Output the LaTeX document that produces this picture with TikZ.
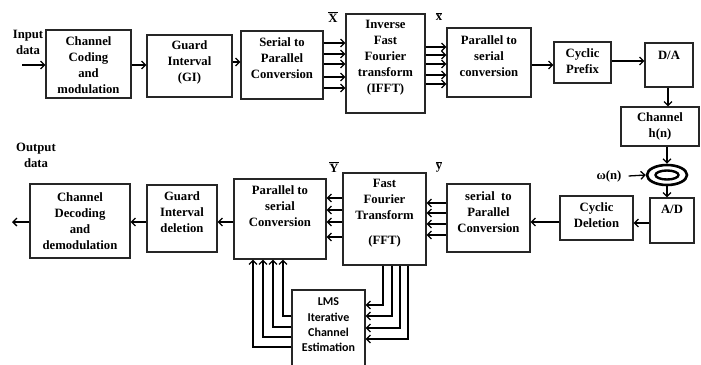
\documentclass[tikz,border=0pt]{standalone}
\usepackage{fontspec}
\setmainfont{Liberation Serif}
\newfontfamily\tnr{Liberation Serif}
\newfontfamily\lmsfont{Carlito}
\usetikzlibrary{arrows.meta,shapes.geometric}
\newcommand\obar[1]{$\overline{\hbox{#1}}$}
\newcommand\mkbox[5]{\node[box, minimum width={#4-#2}, minimum height={#5-#3}] (#1) at ({(#2+#4)/2},{(#3+#5)/2}) {};}
\begin{document}
\begin{tikzpicture}[x=1pt,y=-1pt,
  box/.style={draw=black!85, line width=1.1pt, inner sep=0pt, rectangle},
  txt/.style={align=center, inner sep=0pt, font=\tnr\fontsize{12.7}{16}\selectfont\bfseries},
  lmstxt/.style={align=center, inner sep=0pt, font=\lmsfont\fontsize{12}{15.3}\selectfont\bfseries},
  arr/.style={line width=1.3pt, -{Straight Barb[length=4pt,width=8pt]}},
  ln/.style={line width=1.3pt}]
\useasboundingbox (0,0) rectangle (701,364);
% ---- boxes ----
\mkbox{cc}{46}{30}{131}{98}
\mkbox{gi}{147}{35}{232}{97}
\mkbox{sp}{241}{31}{323}{99}
\mkbox{ifft}{346}{14}{425}{113}
\mkbox{ps}{447}{28}{531}{97}
\mkbox{cp}{554}{42}{611}{83}
\mkbox{da}{645}{43}{693}{87}
\mkbox{ch}{621}{107}{699}{146}
\mkbox{ad}{650}{198}{694}{243}
\mkbox{cd}{560}{196}{633}{240}
\mkbox{sptwo}{447}{184}{530}{252}
\mkbox{fft}{343}{173}{426}{265}
\mkbox{pstwo}{234}{179}{326}{259}
\mkbox{gid}{147}{185}{217}{252}
\mkbox{cdd}{30}{184}{130}{258}
\mkbox{lms}{292}{290}{365}{372}
% ---- texts ----
\node[txt] (cct) at (88.5,65.5) {Channel\\Coding\\and\\modulation};
\node[txt] (git) at (189.5,62.5) {Guard\\Interval\\(GI)};
\node[txt] (spt) at (282,58) {Serial to\\Parallel\\Conversion};
\node[txt] (ifftt) at (385.5,57.5) {Inverse\\Fast\\Fourier\\transform\\(IFFT)};
\node[txt] (pst) at (489,56.5) {Parallel to\\serial\\conversion};
\node[txt] (cpt) at (582.5,61.5) {Cyclic\\Prefix};
\node[txt] (dat) at (669,55.5) {D/A};
\node[txt] (cht) at (660,126.5) {Channel\\h(n)};
\node[txt] (adt) at (672,209) {A/D};
\node[txt] (cdt) at (596.5,215.5) {Cyclic\\Deletion};
\node[txt] (sptwot) at (488.5,212) {serial\enspace to\\Parallel\\Conversion};
\node[txt] (fftt) at (384.5,213.5) {Fast\\Fourier\\Transform\\[9pt](FFT)};
\node[txt] (pstwot) at (280,206.5) {Parallel to\\serial\\Conversion};
\node[txt] (gidt) at (182,212.5) {Guard\\Interval\\deletion};
\node[txt] (cddt) at (80,221) {Channel\\Decoding\\and\\demodulation};
\node[lmstxt] (lmst) at (328.5,325) {LMS\\Iterative\\Channel\\Estimation};
\node[txt] (inlbl) at (28,42) {Input\\data};
\node[txt] (outlbl) at (36,155) {Output\\data};
\node[txt] (xbig) at (333,17) {\obar{X}};
\node[txt] (xsmall) at (439,17) {\obar{x}};
\node[txt] (ybig) at (334,167) {\obar{Y}};
\node[txt] (ysmall) at (439,167) {\obar{y}};
\node[txt] (om) at (609,176) {ω(n)};
% ---- ring ----
\node[draw, ellipse, line width=2.6pt, minimum width=40pt, minimum height=20pt, inner sep=0pt] (ring) at (667,175) {};
\draw[line width=2.4pt] (ring.center) ellipse (11.5 and 4.5);
% ---- connectors ----
\coordinate (inp) at (22,65);
\coordinate (outp) at (12,222);
\draw[arr] (inp) -- (cc.west |- inp);
\draw[arr] (cc.east |- 0,65) -- (gi.west |- 0,65);
\draw[arr] (gi.east |- 0,62) -- (sp.west |- 0,62);
\foreach \yy in {43,54,64,77,88} \draw[arr] (sp.east |- 0,\yy) -- (ifft.west |- 0,\yy);
\foreach \yy in {47,55,64,75,84} \draw[arr] (ifft.east |- 0,\yy) -- (ps.west |- 0,\yy);
\draw[arr] (ps.east |- 0,65) -- (cp.west |- 0,65);
\draw[arr] (cp.east |- 0,61) -- (da.west |- 0,61);
\draw[arr] (da.south -| 668,0) -- (ch.north -| 668,0);
\draw[arr] (ch.south -| ring.north) -- (ring.north);
\draw[arr] ([xshift=7pt]om.east) -- (ring.west);
\draw[arr] (ring.south) -- (ad.north -| ring.south);
\draw[arr] (ad.west |- 0,223) -- (cd.east |- 0,223);
\draw[arr] (cd.west |- 0,222) -- (sptwo.east |- 0,222);
\foreach \yy in {203,213,224,235} \draw[arr] (sptwo.west |- 0,\yy) -- (fft.east |- 0,\yy);
\foreach \yy in {198,210,222,237} \draw[arr] (fft.west |- 0,\yy) -- (pstwo.east |- 0,\yy);
\draw[arr] (pstwo.west |- 0,222) -- (gid.east |- 0,222);
\draw[arr] (gid.west |- 0,222) -- (cdd.east |- 0,222);
\draw[arr] (cdd.west |- 0,222) -- (outp);
\foreach \xx/\yy in {383/305,392/316,400/328,408/339}
  \draw[arr] (fft.south -| \xx,0) |- (lms.east |- 0,\yy);
\foreach \xx/\yy in {283/316,273/327,263/337,253/347}
  \draw[arr] (lms.west |- 0,\yy) -| (pstwo.south -| \xx,0);
\end{tikzpicture}
\end{document}
